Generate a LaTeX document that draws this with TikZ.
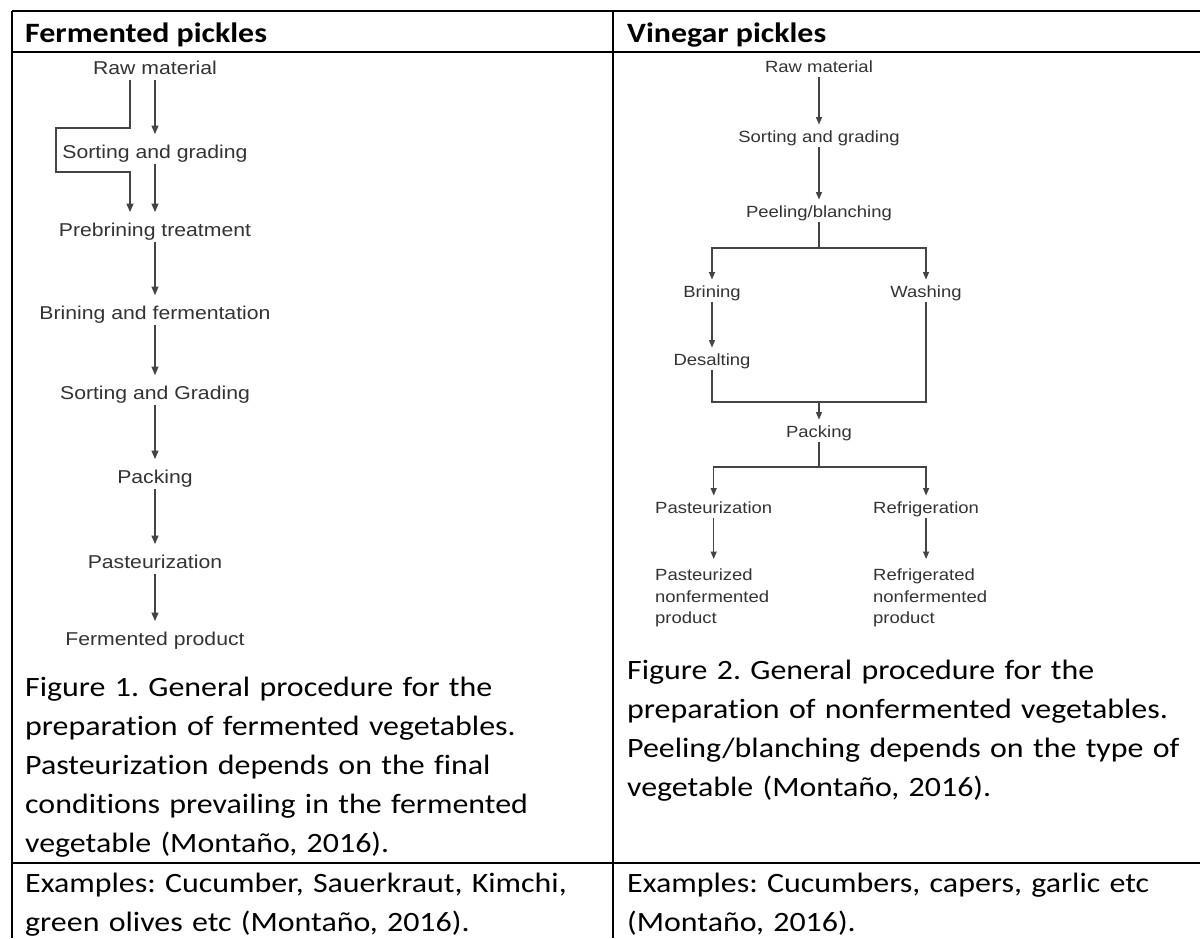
\documentclass[tikz,border=0pt]{standalone}
\usepackage{fontspec}
\setmainfont{Carlito}[FakeStretch=1.14, Ligatures=NoCommon]
\newfontfamily\flowfont{Liberation Sans}[FakeStretch=1.14]
\usetikzlibrary{arrows.meta,calc}
\definecolor{flowtext}{HTML}{333333}
\definecolor{flowline}{HTML}{444444}
\frenchspacing
\tikzset{
  lstep/.style={font=\flowfont\fontsize{18.6pt}{22pt}\selectfont, text=flowtext, inner xsep=2pt, inner ysep=1pt, text height=13.5pt, text depth=4pt},
  rstep/.style={font=\flowfont\fontsize{16.2pt}{21.5pt}\selectfont, text=flowtext, inner xsep=0pt, inner ysep=1pt, text height=12pt, text depth=3.5pt},
  rprodbox/.style={font=\flowfont\fontsize{16.2pt}{21.5pt}\selectfont, text=flowtext, inner xsep=0pt, inner ysep=5pt, anchor=north west, align=left},
  larr/.style={draw=flowline, line width=1.3pt, -{Triangle[length=8.5pt,width=7pt]}, shorten >=10pt},
  rarr/.style={draw=flowline, line width=1.2pt, -{Triangle[length=7.5pt,width=6pt]}, shorten >=5pt},
  lline/.style={draw=flowline, line width=1.3pt},
  rline/.style={draw=flowline, line width=1.2pt},
  gridline/.style={line width=2.2pt, black},
  headtext/.style={anchor=base west, inner sep=0pt, font=\bfseries\fontsize{28pt}{39pt}\selectfont},
  captext/.style={anchor=north west, inner sep=0pt, font=\fontsize{28pt}{39pt}\selectfont, text width=580pt, align=left},
}
\begin{document}
\begin{tikzpicture}[x=1pt,y=-1pt]
\useasboundingbox (0,0) rectangle (1200,938);
\fill[white] (0,0) rectangle (1200,938);

% table grid
\draw[gridline] (12,11) -- (1200,11);
\draw[gridline] (12,52) -- (1200,52);
\draw[gridline] (12,863) -- (1200,863);
\draw[gridline] (12,11) -- (12,938);
\draw[gridline] (613,11) -- (613,938);

% headers
\node[headtext] (h1) at (25,42) {Fermented pickles};
\node[headtext] (h2) at (627,42) {Vinegar pickles};

% left flowchart
\node[lstep] (raw) at (155,70) {Raw material};
\node[lstep] (sg1) at (155,154) {Sorting and grading};
\node[lstep] (pre) at (155,232) {Prebrining treatment};
\node[lstep] (bf)  at (155,315) {Brining and fermentation};
\node[lstep] (sg2) at (155,395) {Sorting and Grading};
\node[lstep] (pk)  at (155,479) {Packing};
\node[lstep] (past) at (155,564) {Pasteurization};
\node[lstep] (fp)  at (155,641) {Fermented product};
\coordinate (byA) at (56,128);
\coordinate (byB) at (56,172);

\draw[larr] (raw.south) -- (sg1.north);
\draw[larr] ([xshift=-25pt]raw.south) |- (byA) |- (byB) -| ([xshift=-25pt]pre.north);
\draw[larr] (sg1.south) -- (pre.north);
\draw[larr] (pre.south) -- (bf.north);
\draw[larr] (bf.south) -- (sg2.north);
\draw[larr] (sg2.south) -- (pk.north);
\draw[larr] (pk.south) -- (past.north);
\draw[larr] (past.south) -- (fp.north);

% right flowchart
\node[rstep] (rraw) at (819,68.5) {Raw material};
\node[rstep] (rsg)  at (819,138.5) {Sorting and grading};
\node[rstep] (rpb)  at (819,213.5) {Peeling/blanching};
\node[rstep] (brin) at (712,293.5) {Brining};
\node[rstep] (wash) at (926,293.5) {Washing};
\node[rstep] (desal) at (712,361.5) {Desalting};
\node[rstep] (rpk)  at (819,433.5) {Packing};
\node[rstep, anchor=west] (rpast) at (655,509.5) {Pasteurization};
\node[rstep, anchor=west] (rref)  at (873,509.5) {Refrigeration};
\node[rprodbox] (pprod) at (655,564) {Pasteurized\\nonfermented\\product};
\node[rprodbox] (rprod) at (873,564) {Refrigerated\\nonfermented\\product};
\coordinate (split1) at (819,248);
\coordinate (join)   at (819,402);
\coordinate (split2) at (819,467);

\draw[rarr] (rraw.south) -- (rsg.north);
\draw[rarr] (rsg.south) -- (rpb.north);
\draw[rline] (rpb.south) -- (split1);
\draw[rarr] (split1) -| (brin.north);
\draw[rarr] (split1) -| (wash.north);
\draw[rarr] (brin.south) -- (desal.north);
\draw[rline] (desal.south) |- (join);
\draw[rline] (wash.south) |- (join);
\draw[rarr] (join) -- (rpk.north);
\draw[rline] (rpk.south) -- (split2);
\draw[rarr] (split2) -| (rpast.north);
\draw[rarr] (split2) -| (rref.north);
\draw[rarr] (rpast.south) -- (rpast.south |- pprod.north);
\draw[rarr] (rref.south) -- (rref.south |- rprod.north);

% captions
\node[captext] (cap1) at (25,668.7) {\strut Figure 1. General procedure for the\\ preparation of fermented vegetables.\\ Pasteurization depends on the final\\ conditions prevailing in the fermented\\ vegetable (Montaño, 2016).};
\node[captext] (cap2) at (627,651.7) {\strut Figure 2. General procedure for the\\ preparation of nonfermented vegetables.\\ Peeling/blanching depends on the type of\\ vegetable (Montaño, 2016).};

% examples
\node[captext] (ex1) at (25,864.7) {\strut Examples: Cucumber, Sauerkraut, Kimchi,\\ green olives etc (Montaño, 2016).};
\node[captext] (ex2) at (627,864.7) {\strut Examples: Cucumbers, capers, garlic etc\\ (Montaño, 2016).};
\end{tikzpicture}
\end{document}
